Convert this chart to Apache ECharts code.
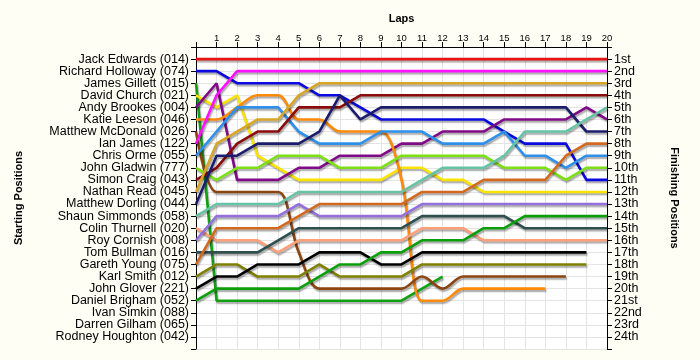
<!DOCTYPE html>
<html>
<head>
<meta charset="utf-8">
<script src="https://cdn.jsdelivr.net/npm/echarts@6/dist/echarts.min.js"></script>
<style>
html,body{margin:0;padding:0;background:#fffef5;}
#chart{width:700px;height:360px;}
</style>
</head>
<body>
<div id="chart"></div>
<script>
const drivers = ["Jack Edwards (014)","Richard Holloway (074)","James Gillett (015)","David Church (021)","Andy Brookes (004)","Katie Leeson (046)","Matthew McDonald (026)","Ian James (122)","Chris Orme (055)","John Gladwin (777)","Simon Craig (043)","Nathan Read (045)","Matthew Dorling (044)","Shaun Simmonds (058)","Colin Thurnell (020)","Roy Cornish (008)","Tom Bullman (016)","Gareth Young (075)","Karl Smith (012)","John Glover (221)","Daniel Brigham (052)","Ivan Simkin (088)","Darren Gilham (065)","Rodney Houghton (042)"];
const finishLabels = ["1st","2nd","3rd","4th","5th","6th","7th","8th","9th","10th","11th","12th","13th","14th","15th","16th","17th","18th","19th","20th","21st","22nd","23rd","24th"];
const lapLabels = ["1","2","3","4","5","6","7","8","9","10","11","12","13","14","15","16","17","18","19","20"];

const jackEdwards     = [1,1,1,1,1,1,1,1,1,1,1,1,1,1,1,1,1,1,1,1,1];
const richardHolloway = [2,2,3,3,3,3,4,4,5,6,6,6,6,6,6,7,8,8,8,11,11];
const jamesGillett    = [3,21,21,21,21,21,21,21,21,21,21,20,19];
const davidChurch     = [4,5,4,9,10,11,11,11,11,11,10,10,11,11,12,12,12,12,12,12,12];
const andyBrookes     = [5,3,11,11,11,10,10,9,9,9,8,8,7,7,7,6,6,6,6,5,6];
const katieLeeson     = [6,6,5,4,4,6,6,7,7,7,11,21,21,20,20,20,20,20];
const matthewMcDonald = [7,12,12,12,12,17,20,20,20,20,20,19,20,19,19,19,19,19,19];
const ianJames        = [8,4,2,2,2,2,2,2,2,2,2,2,2,2,2,2,2,2,2,2,2];
const chrisOrme       = [9,7,5,5,5,7,8,8,8,7,7,7,8,8,8,7,9,9,10,9,9];
const johnGladwin     = [10,11,10,10,9,9,9,10,10,10,9,9,9,9,9,10,10,10,11,10,10];
const simonCraig      = [11,10,8,7,7,5,5,5,4,4,4,4,4,4,4,4,4,4,4,4,4];
const nathanRead      = [12,8,7,6,6,4,3,3,3,3,3,3,3,3,3,3,3,3,3,3,3];
const matthewDorling  = [13,9,9,8,8,8,7,4,6,5,5,5,5,5,5,5,5,5,5,7,7];
const shaunSimmonds   = [14,13,13,13,13,12,12,12,12,12,12,11,10,10,10,9,7,7,7,6,5];
const colinThurnell   = [15,16,16,16,17,16,16,16,16,16,16,15,15,15,16,16,16,16,16,16,16];
const royCornish      = [16,14,14,14,14,13,14,14,14,14,14,13,13,13,13,13,13,13,13,13,13];
const tomBullman      = [17,17,17,17,16,15,15,15,15,15,15,14,14,14,14,14,15,15,15,15,15];
const garethYoung     = [18,15,15,15,15,14,13,13,13,13,13,12,12,12,11,11,11,11,9,8,8];
const karlSmith       = [19,18,18,19,19,19,18,19,19,19,19,18,18,18,18,18,18,18,18,18];
const johnGlover      = [20,19,19,18,18,18,17,17,17,18,18,17,17,17,17,17,17,17,17,17];
const danielBrigham   = [21,20,20,20,20,20,19,18,18,17,17,16,16,16,15,15,14,14,14,14,14];
const ivanSimkin      = [];
const darrenGilham    = [];
const rodneyHoughton  = [];

const seriesData = [jackEdwards,richardHolloway,jamesGillett,davidChurch,andyBrookes,katieLeeson,matthewMcDonald,ianJames,chrisOrme,johnGladwin,simonCraig,nathanRead,matthewDorling,shaunSimmonds,colinThurnell,royCornish,tomBullman,garethYoung,karlSmith,johnGlover,danielBrigham,ivanSimkin,darrenGilham,rodneyHoughton];
const colors = ["#e81414","#0a0ae0","#12a012","#fbe300","#800a88","#ff8a0a","#8b4513","#ff10ff","#2e90ea","#7ce014","#8b0a0a","#d9a528","#1c1c6e","#66c4a6","#ffa07a","#9370db","#2f4f4f","#d2691e","#808000","#000000","#0a9e0a","#888888","#888888","#888888"];
const smoothed = {5:0.35, 6:0.35};

const FONT = "'Liberation Sans', Arial, sans-serif";
const chart = echarts.init(document.getElementById('chart'));
const series = seriesData.map((arr, i) => ({
  name: drivers[i],
  type: 'line',
  xAxisIndex: 0,
  yAxisIndex: 0,
  data: arr.map((v, lap) => [lap, v]),
  showSymbol: false,
  symbol: 'none',
  smooth: smoothed[i] || false,
  animation: false,
  z: 3,
  lineStyle: {
    color: colors[i],
    width: 2.6,
    shadowColor: 'rgba(0,0,0,0.35)',
    shadowBlur: 1.5,
    shadowOffsetX: 1,
    shadowOffsetY: 2
  }
}));

chart.setOption({
  backgroundColor: '#fffef5',
  animation: false,
  grid: {left: 196, right: 93, top: 47, bottom: 11, show: true, backgroundColor: '#ffffff', borderWidth: 0},
  xAxis: {
    type: 'value', position: 'top', min: 0, max: 20, interval: 1,
    name: 'Laps', nameLocation: 'middle', nameGap: 23,
    nameTextStyle: {fontFamily: FONT, fontSize: 11, fontWeight: 'bold', color: '#000'},
    axisLine: {show: true, lineStyle: {color: '#000', width: 1}},
    axisTick: {show: true, length: 5, lineStyle: {color: '#000'}},
    axisLabel: {margin: 4, fontFamily: FONT, fontSize: 9.5, color: '#000',
      formatter: v => (v >= 1 && v <= 20) ? lapLabels[v - 1] : ''},
    splitLine: {show: true, lineStyle: {color: '#e4e4e4', width: 1}}
  },
  yAxis: [{
    type: 'value', position: 'left', min: 0, max: 25, interval: 1, inverse: true,
    name: 'Starting Positions', nameLocation: 'middle', nameGap: 172, nameRotate: 90,
    nameTextStyle: {fontFamily: FONT, fontSize: 11, fontWeight: 'bold', color: '#000'},
    axisLine: {show: true, lineStyle: {color: '#000', width: 1}},
    axisTick: {show: true, length: 5, lineStyle: {color: '#000'}},
    axisLabel: {margin: 7, fontFamily: FONT, fontSize: 12.5, color: '#000',
      formatter: v => (v >= 1 && v <= 24) ? drivers[v - 1] : ''},
    splitLine: {show: true, lineStyle: {color: '#e4e4e4', width: 1}}
  }, {
    type: 'value', position: 'right', min: 0, max: 25, interval: 1, inverse: true,
    name: 'Finishing Positions', nameLocation: 'middle', nameGap: 62, nameRotate: -90,
    nameTextStyle: {fontFamily: FONT, fontSize: 11, fontWeight: 'bold', color: '#000'},
    axisLine: {show: true, lineStyle: {color: '#000', width: 1}},
    axisTick: {show: true, length: 5, lineStyle: {color: '#000'}},
    axisLabel: {margin: 7, fontFamily: FONT, fontSize: 12.5, color: '#000',
      formatter: v => (v >= 1 && v <= 24) ? finishLabels[v - 1] : ''},
    splitLine: {show: false}
  }],
  series: series
});
</script>
</body>
</html>
